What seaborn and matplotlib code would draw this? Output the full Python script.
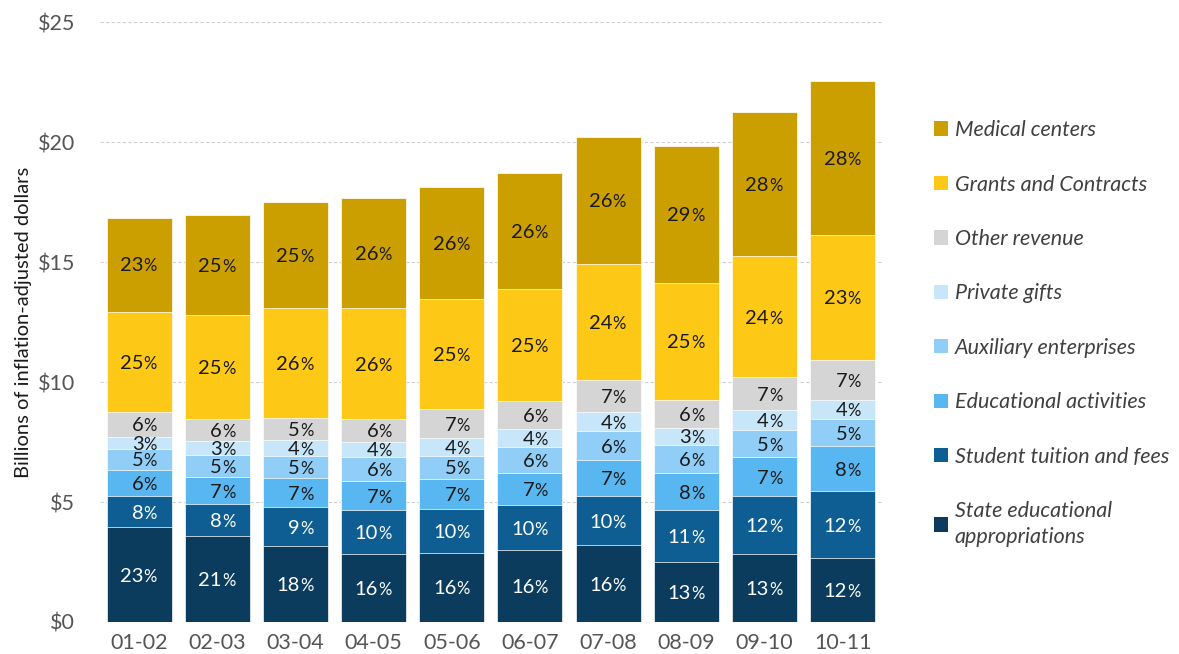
import numpy as np
import pandas as pd
import seaborn as sns
import matplotlib.pyplot as plt
from matplotlib.patches import Patch

years = ["01-02", "02-03", "03-04", "04-05", "05-06", "06-07", "07-08", "08-09", "09-10", "10-11"]

# Billions of inflation-adjusted dollars
state = [3.95, 3.57, 3.15, 2.83, 2.87, 3.00, 3.19, 2.50, 2.83, 2.65]
tuition = [1.29, 1.34, 1.63, 1.83, 1.83, 1.87, 2.05, 2.17, 2.43, 2.79]
educ = [1.09, 1.13, 1.21, 1.21, 1.25, 1.33, 1.50, 1.53, 1.60, 1.90]
aux = [0.88, 0.91, 0.91, 0.99, 0.98, 1.09, 1.21, 1.18, 1.13, 1.11]
gifts = [0.48, 0.61, 0.67, 0.66, 0.73, 0.74, 0.79, 0.70, 0.83, 0.81]
other = [1.08, 0.92, 0.93, 0.93, 1.21, 1.19, 1.34, 1.17, 1.39, 1.66]
grants = [4.17, 4.32, 4.59, 4.63, 4.60, 4.64, 4.86, 4.89, 5.03, 5.23]
medical = [3.92, 4.15, 4.40, 4.59, 4.68, 4.86, 5.28, 5.72, 6.00, 6.41]

# share labels printed on the bars
state_pct = [23, 21, 18, 16, 16, 16, 16, 13, 13, 12]
tuition_pct = [8, 8, 9, 10, 10, 10, 10, 11, 12, 12]
educ_pct = [6, 7, 7, 7, 7, 7, 7, 8, 7, 8]
aux_pct = [5, 5, 5, 6, 5, 6, 6, 6, 5, 5]
gifts_pct = [3, 3, 4, 4, 4, 4, 4, 3, 4, 4]
other_pct = [6, 6, 5, 6, 7, 6, 7, 6, 7, 7]
grants_pct = [25, 25, 26, 26, 25, 25, 24, 25, 24, 23]
medical_pct = [23, 25, 25, 26, 26, 26, 26, 29, 28, 28]

names = ["State educational\nappropriations", "Student tuition and fees", "Educational activities",
         "Auxiliary enterprises", "Private gifts", "Other revenue", "Grants and Contracts", "Medical centers"]
colors = ["#0b3c5e", "#0e5d93", "#58b6f0", "#90cef7", "#c7e6fa", "#d5d5d5", "#fec916", "#cc9f00"]
text_colors = ["white", "white", "#1a1a1a", "#1a1a1a", "#1a1a1a", "#1a1a1a", "#1a1a1a", "#1a1a1a"]

layers = [state, tuition, educ, aux, gifts, other, grants, medical]
pcts = [state_pct, tuition_pct, educ_pct, aux_pct, gifts_pct, other_pct, grants_pct, medical_pct]

df = pd.DataFrame({"year": years})
cum = np.cumsum(np.array(layers), axis=0)

sns.set_style("white")
plt.rcParams["font.family"] = ["Lato", "DejaVu Sans"]

fig = plt.figure(figsize=(11.79, 6.54), dpi=100)
ax = fig.add_axes([0.0848, 0.049, 0.663, 0.917])

# stacked bars: draw the cumulative totals from the top layer down
for k in range(len(layers) - 1, -1, -1):
    df["val"] = cum[k]
    sns.barplot(data=df, x="year", y="val", color=colors[k], saturation=1, width=0.83,
                edgecolor="white", linewidth=0.5, ax=ax, zorder=2)

# percentage labels (smaller % sign, as in the original)
for k in range(len(layers)):
    bottoms = cum[k] - np.array(layers[k])
    for i in range(len(years)):
        yc = bottoms[i] + layers[k][i] / 2
        ax.annotate(str(pcts[k][i]), xy=(i, yc), xytext=(3.3, -5.0), textcoords="offset points",
                    ha="right", va="baseline", fontsize=14.5, color=text_colors[k], zorder=3)
        ax.annotate("%", xy=(i, yc), xytext=(3.3, -5.0), textcoords="offset points",
                    ha="left", va="baseline", fontsize=12, color=text_colors[k], zorder=3)

ax.set_xlim(-0.5, 9.5)
ax.set_ylim(0, 25)
ax.set_yticks([0, 5, 10, 15, 20, 25])
ax.set_yticklabels(["$0", "$5", "$10", "$15", "$20", "$25"])
ax.yaxis.grid(True, linestyle=(0, (3, 2)), color="#cfcfcf", linewidth=0.8, zorder=0)
ax.set_axisbelow(True)
for s in ax.spines.values():
    s.set_visible(False)
ax.tick_params(axis="both", length=0, labelsize=15.5, colors="#555555", pad=8)
ax.tick_params(axis="y", pad=18)
ax.set_xlabel("")
ax.set_ylabel("Billions of inflation-adjusted dollars", fontsize=14.5, color="#1a1a1a", labelpad=4)

handles = [Patch(facecolor=colors[k], edgecolor="none") for k in range(len(layers) - 1, -1, -1)]
labels = [names[k] for k in range(len(layers) - 1, -1, -1)]
leg = ax.legend(handles, labels, loc="upper left", bbox_to_anchor=(0.776, 0.846),
                bbox_transform=fig.transFigure, frameon=False, fontsize=15.5,
                handlelength=0.65, handleheight=0.65, handletextpad=0.3, labelspacing=1.6)
for t in leg.get_texts():
    t.set_fontstyle("italic")
    t.set_color("#404040")
    t.set_linespacing(1.35)

fig.savefig("out.png", dpi=100)
